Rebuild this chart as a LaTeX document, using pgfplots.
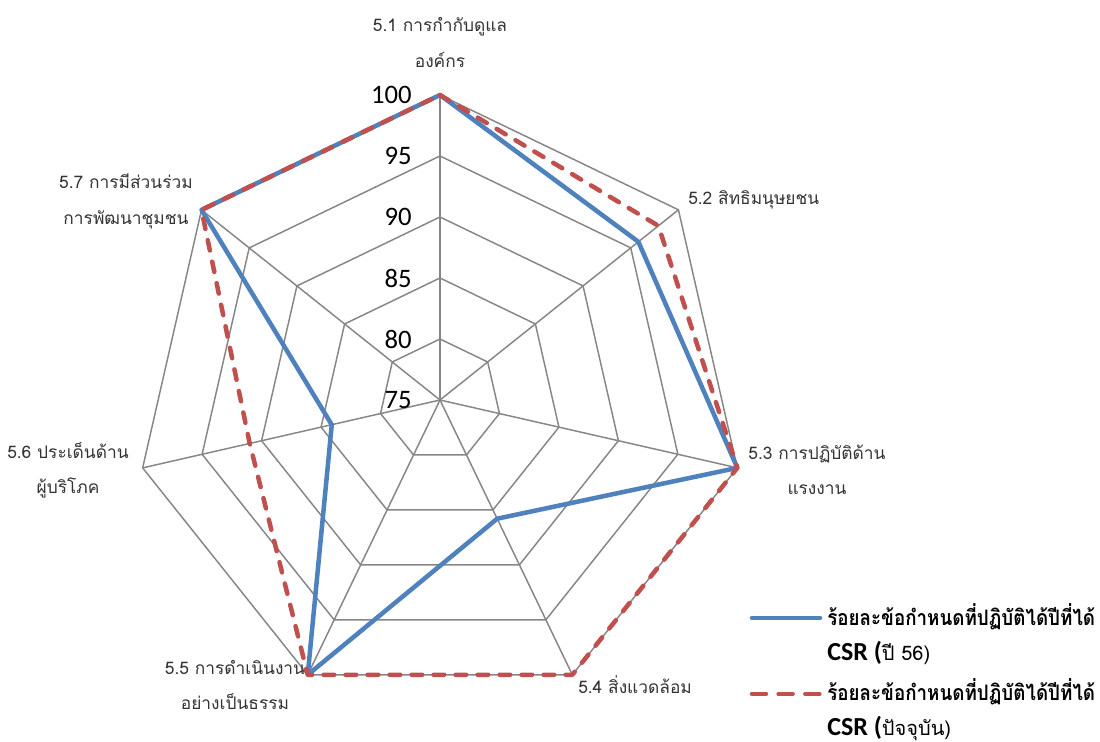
\documentclass[border=0pt]{standalone}
\usepackage{fontspec}
\setmainfont{Loma}[Script=Thai]
\newfontfamily\carlito{Carlito}
\newfontfamily\lomanarrow{Loma}[Script=Thai, FakeStretch=0.88]
\usepackage{pgfplots}
\usepgfplotslibrary{polar}
\pgfplotsset{compat=1.18}

\definecolor{csrblue}{HTML}{4F81BD}
\definecolor{csrred}{HTML}{C0504D}
\definecolor{gridgray}{HTML}{868686}

\begin{document}
\begin{tikzpicture}
% page: 1100 x 742 px, 1px = 0.75pt, centre of the web at (440,400)
\useasboundingbox (-330pt,-256.5pt) rectangle (495pt,300pt);
\begin{polaraxis}[
  at={(0pt,0pt)}, anchor=center,
  scale only axis, width=457.5pt, height=457.5pt,
  hide axis, clip=false,
  xmin=0, xmax=360, ymin=0, ymax=25,
  % category index -> angle (clockwise from top), value -> radius above 75
  x filter/.expression={mod(450-x*360/7,360)},
  y filter/.expression={y-75},
]
% heptagon grid
\pgfplotsinvokeforeach{80,85,90,95,100}{
  \addplot[gridgray, line width=1.1pt, line join=miter] coordinates
    {(0,#1)(1,#1)(2,#1)(3,#1)(4,#1)(5,#1)(6,#1)(7,#1)};
}
\pgfplotsinvokeforeach{0,1,2,3,4,5,6}{
  \addplot[gridgray, line width=1.1pt] coordinates {(#1,75)(#1,100)};
}
% CSR (year 56)
\addplot[csrblue, line width=3.4pt, line join=round] coordinates {
  (0,100) (1,95.8) (2,100) (3,85.8) (4,100) (5,84.1) (6,100) (7,100)
};
% CSR (current)
\addplot[csrred, line width=3.4pt, line join=round, line cap=round,
  dash pattern=on 7.9pt off 8.6pt] coordinates {
  (0,100) (1,97.9) (2,100) (3,100) (4,100) (5,91.0) (6,100) (7,100)
};
\end{polaraxis}

\begin{scope}[x=0.75pt, y=0.75pt]
% radial tick labels
\begin{scope}[every node/.style={anchor=east, inner sep=0pt,
    font=\carlito\fontsize{20pt}{24pt}\selectfont}]
\node at (-28,305) {100};
\node at (-28,244) {95};
\node at (-28,183) {90};
\node at (-28,122) {85};
\node at (-28,61) {80};
\node at (-28,0) {75};
\end{scope}
% category labels
\begin{scope}[every node/.style={inner sep=0pt, align=center, text=black!80,
    font=\fontsize{13pt}{26.5pt}\selectfont}]
\node at (0,357.5) {5.1 การกำกับดูแล\\องค์กร};
\node[anchor=west] at (248,200) {5.2 สิทธิมนุษยชน};
\node at (377,-69.5) {5.3 การปฏิบัติด้าน\\แรงงาน};
\node[anchor=west] at (138,-285) {5.4 สิ่งแวดล้อม};
\node at (-205,-285) {5.5 การดำเนินงาน\\อย่างเป็นธรรม};
\node at (-372,-70.5) {5.6 ประเด็นด้าน\\ผู้บริโภค};
\node at (-314,198.5) {5.7 การมีส่วนร่วม\\การพัฒนาชุมชน};
\end{scope}
% legend
\draw[csrblue, line width=3.4pt, line cap=round] (312,-218) -- (380,-218);
\draw[csrred, line width=3.4pt, line cap=round, dash pattern=on 10.5pt off 9.5pt]
  (312,-294) -- (380,-294);
\begin{scope}[every node/.style={anchor=west, inner sep=0pt}]
\node[font=\lomanarrow\bfseries\fontsize{16pt}{20pt}\selectfont] at (387,-217) {ร้อยละข้อกำหนดที่ปฏิบัติได้ปีที่ได้};
\node at (387,-253) {{\carlito\bfseries\fontsize{19.5pt}{22pt}\selectfont CSR (}{\fontsize{15pt}{18pt}\selectfont ปี 56)}};
\node[font=\lomanarrow\bfseries\fontsize{16pt}{20pt}\selectfont] at (387,-292) {ร้อยละข้อกำหนดที่ปฏิบัติได้ปีที่ได้};
\node at (387,-328) {{\carlito\bfseries\fontsize{19.5pt}{22pt}\selectfont CSR (}{\fontsize{15pt}{18pt}\selectfont ปัจจุบัน)}};
\end{scope}
\end{scope}
\end{tikzpicture}
\end{document}
